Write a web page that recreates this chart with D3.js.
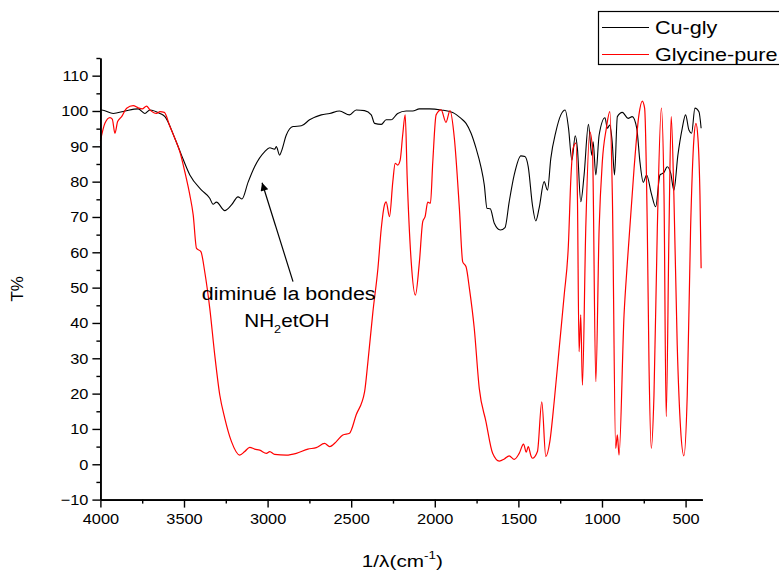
<!DOCTYPE html>
<html>
<head>
<meta charset="utf-8">
<script src="https://cdn.jsdelivr.net/npm/d3@7"></script>
<style>
  html, body { margin: 0; padding: 0; background: #fff; }
  svg text { font-family: "Liberation Sans", Arial, sans-serif; fill: #000; }
</style>
</head>
<body>
<svg id="chart" width="779" height="572"></svg>
<script>
// FTIR transmittance spectra: wavenumber (cm^-1) and T (%)
const cuGlyWave = [4000, 3992, 3923, 3853, 3774, 3734, 3704, 3644, 3614, 3555, 3515, 3465, 3395, 3346, 3326, 3306, 3256, 3216, 3177, 3153, 3117, 3077, 3017, 2987, 2958, 2948, 2928, 2918, 2888, 2848, 2798, 2749, 2679, 2629, 2570, 2510, 2470, 2420, 2380, 2360, 2320, 2291, 2261, 2222, 2171, 2132, 2092, 2032, 1962, 1893, 1843, 1813, 1783, 1753, 1724, 1704, 1688, 1668, 1644, 1608, 1580, 1555, 1525, 1485, 1461, 1441, 1416, 1396, 1376, 1346, 1326, 1306, 1276, 1246, 1220, 1200, 1180, 1160, 1147, 1127, 1107, 1081, 1061, 1053, 1037, 1017, 982, 968, 954, 939, 925, 908, 878, 844, 819, 792, 773, 753, 733, 705, 679, 653, 629, 610, 589, 570, 546, 520, 500, 480, 464, 444, 420, 407];
const cuGlyT = [100.2, 100.3, 99.3, 100.0, 100.6, 99.3, 100.3, 99.3, 98.4, 92.3, 87.5, 81.9, 77.6, 75.3, 73.6, 74.2, 71.8, 73.4, 75.7, 75.1, 79.8, 84.3, 88.5, 89.6, 89.2, 89.9, 87.5, 88.5, 93.2, 95.6, 95.8, 97.5, 98.9, 99.3, 100.0, 98.9, 100.3, 100.1, 98.9, 96.5, 96.2, 97.5, 97.5, 99.3, 100.0, 100.0, 100.6, 100.6, 100.3, 99.6, 97.9, 96.5, 93.7, 89.4, 84.2, 79.1, 72.5, 72.3, 68.2, 66.3, 67.0, 74.3, 81.9, 87.3, 87.1, 84.2, 73.4, 68.9, 72.5, 80.0, 77.6, 86.6, 94.1, 98.9, 100.3, 95.1, 86.1, 93.0, 89.4, 74.3, 81.9, 96.2, 87.5, 91.3, 81.9, 93.2, 98.1, 95.1, 96.0, 91.3, 81.9, 98.4, 99.6, 97.9, 98.4, 95.1, 85.6, 79.8, 81.9, 76.7, 72.9, 81.9, 82.6, 84.2, 82.4, 77.6, 87.5, 95.1, 98.9, 94.6, 93.7, 100.8, 99.8, 95.1];

const glyWave = [4000, 3973, 3943, 3929, 3913, 3897, 3873, 3843, 3804, 3774, 3750, 3724, 3704, 3664, 3644, 3618, 3584, 3555, 3525, 3495, 3465, 3445, 3425, 3399, 3376, 3346, 3316, 3286, 3256, 3216, 3167, 3137, 3107, 3077, 3047, 3007, 2987, 2958, 2888, 2828, 2759, 2709, 2659, 2629, 2589, 2550, 2510, 2470, 2420, 2400, 2370, 2340, 2320, 2301, 2291, 2271, 2251, 2237, 2222, 2207, 2192, 2177, 2165, 2141, 2116, 2092, 2072, 2058, 2042, 2026, 2012, 1992, 1962, 1933, 1909, 1883, 1853, 1833, 1813, 1793, 1764, 1734, 1694, 1654, 1614, 1584, 1555, 1525, 1495, 1469, 1453, 1441, 1425, 1416, 1386, 1360, 1336, 1312, 1286, 1256, 1226, 1201, 1186, 1173, 1156, 1147, 1137, 1127, 1117, 1097, 1073, 1057, 1037, 1017, 998, 974, 953, 938, 918, 908, 898, 868, 848, 808, 779, 759, 745, 729, 719, 705, 689, 669, 645, 629, 616, 599, 586, 570, 550, 530, 510, 490, 470, 450, 438, 426, 414, 407];
const glyT = [91.5, 96.5, 98.1, 97.7, 93.7, 97.0, 98.4, 100.8, 101.5, 100.9, 100.6, 101.4, 100.3, 99.3, 99.8, 99.6, 95.6, 92.3, 88.5, 82.8, 76.2, 70.6, 61.1, 60.2, 54.5, 44.2, 30.9, 19.6, 13.0, 6.4, 2.6, 3.6, 4.8, 4.3, 4.0, 3.1, 3.6, 2.8, 2.6, 3.1, 4.3, 4.7, 5.9, 5.0, 6.4, 8.3, 8.8, 14.0, 20.5, 29.0, 43.2, 55.5, 66.8, 73.4, 74.3, 70.1, 80.0, 85.2, 84.7, 86.1, 93.2, 98.9, 81.0, 57.3, 47.9, 57.3, 68.7, 70.1, 74.2, 73.9, 85.6, 98.9, 100.3, 96.8, 100.1, 92.3, 72.5, 57.3, 55.9, 49.8, 38.5, 21.5, 12.1, 3.1, 0.9, 1.5, 2.4, 1.4, 3.1, 5.7, 3.4, 5.0, 2.4, 1.7, 3.6, 17.7, 2.2, 6.4, 17.7, 32.8, 47.9, 62.0, 81.0, 89.4, 90.9, 76.2, 31.9, 42.3, 22.4, 66.8, 94.1, 89.4, 23.4, 66.8, 85.6, 95.1, 99.8, 76.2, 4.5, 8.3, 2.6, 42.3, 57.3, 83.8, 98.9, 102.8, 100.8, 66.8, 29.0, 4.5, 19.6, 66.8, 100.8, 76.2, 13.5, 66.8, 98.4, 76.2, 33.8, 10.2, 2.4, 19.6, 66.8, 92.3, 96.5, 92.3, 76.2, 55.5];

const seriesNames = ["Cu-gly", "Glycine-pure"];
const seriesColors = ["#000000", "#ff0000"];

const xMajorTicks = [4000, 3500, 3000, 2500, 2000, 1500, 1000, 500];
const xMinorTicks = [3750, 3250, 2750, 2250, 1750, 1250, 750];
const yMajorTicks = [-10, 0, 10, 20, 30, 40, 50, 60, 70, 80, 90, 100, 110];
const yMinorTicks = [-5, 5, 15, 25, 35, 45, 55, 65, 75, 85, 95, 105, 115];

const svg = d3.select("#chart");
const plot = { left: 100.4, right: 702.3, top: 58, bottom: 499.6 };

const x = d3.scaleLinear().domain([4000, 400]).range([plot.left, plot.right]);
const y = d3.scaleLinear().domain([-10, 115]).range([plot.bottom, plot.top]);

// Widen a text element horizontally around its anchor point.
function widen(text, k, ax, ay) {
  text.attr("x", 0).attr("y", 0)
    .attr("transform", `translate(${ax},${ay}) scale(${k},1)`);
  return text;
}

// spectra
const series = [
  d3.zip(cuGlyWave, cuGlyT),
  d3.zip(glyWave, glyT)
];
const line = d3.line()
  .x(d => x(d[0]))
  .y(d => y(d[1]))
  .curve(d3.curveMonotoneX);

svg.append("g").selectAll("path")
  .data(series)
  .join("path")
  .attr("d", line)
  .attr("fill", "none")
  .attr("stroke", (d, i) => seriesColors[i])
  .attr("stroke-width", (d, i) => i === 0 ? 1.1 : 1.2)
  .attr("stroke-linejoin", "round");

// axes
const axisStyle = g => {
  g.select(".domain").attr("stroke", "#000").attr("stroke-width", 1.6);
  g.selectAll(".tick line").attr("stroke", "#000").attr("stroke-width", 1.4);
  g.selectAll(".tick text").attr("font-size", 15).attr("fill", "#000")
    .attr("font-family", "'Liberation Sans', Arial, sans-serif");
};

svg.append("g")
  .attr("transform", `translate(0,${plot.bottom})`)
  .call(d3.axisBottom(x).tickValues(xMinorTicks).tickSize(4).tickFormat("").tickSizeOuter(0))
  .call(axisStyle);
const xAxisG = svg.append("g")
  .attr("transform", `translate(0,${plot.bottom})`)
  .call(d3.axisBottom(x).tickValues(xMajorTicks).tickSize(8).tickPadding(6).tickFormat(d3.format("d")).tickSizeOuter(0))
  .call(axisStyle);
xAxisG.selectAll(".tick text").attr("transform", "scale(1.09,1)");

svg.append("g")
  .attr("transform", `translate(${plot.left},0)`)
  .call(d3.axisLeft(y).tickValues(yMinorTicks).tickSize(4).tickFormat("").tickSizeOuter(0))
  .call(axisStyle);
const yAxisG = svg.append("g")
  .attr("transform", `translate(${plot.left},0)`)
  .call(d3.axisLeft(y).tickValues(yMajorTicks).tickSize(8).tickPadding(4).tickFormat(d3.format("d")).tickSizeOuter(0))
  .call(axisStyle);
yAxisG.selectAll(".tick text").each(function () {
  const t = d3.select(this);
  const tx = +t.attr("x");
  t.attr("x", tx / 1.09).attr("transform", "scale(1.09,1)");
});

// axis titles
svg.append("text")
  .attr("transform", `translate(23,${(plot.top + plot.bottom) / 2 + 10}) rotate(-90)`)
  .attr("text-anchor", "middle")
  .attr("font-size", 17)
  .text("T%");

const xt = svg.append("text")
  .attr("text-anchor", "middle")
  .attr("font-size", 17);
xt.append("tspan").text("1/λ(cm");
xt.append("tspan").attr("dy", -8).attr("font-size", 11).text("-1");
xt.append("tspan").attr("dy", 8).text(")");
widen(xt, 1.22, (plot.left + plot.right) / 2 + 1, 567);

// annotation
const arrowFrom = [2848, 51.7];
const arrowTo = [3033, 79.7];
svg.append("defs").append("marker")
  .attr("id", "head")
  .attr("viewBox", "0 0 10 10")
  .attr("refX", 10).attr("refY", 5)
  .attr("markerWidth", 12).attr("markerHeight", 8)
  .attr("markerUnits", "userSpaceOnUse")
  .attr("orient", "auto")
  .append("path").attr("d", "M0,0 L10,5 L0,10 Z").attr("fill", "#000");

svg.append("line")
  .attr("x1", x(arrowFrom[0])).attr("y1", y(arrowFrom[1]))
  .attr("x2", x(arrowTo[0])).attr("y2", y(arrowTo[1]))
  .attr("stroke", "#000").attr("stroke-width", 1.2)
  .attr("marker-end", "url(#head)");

const ann1 = svg.append("text")
  .attr("text-anchor", "middle")
  .attr("font-size", 18)
  .text("diminué la bondes");
widen(ann1, 1.19, x(2874), y(46.5));

const nh = svg.append("text")
  .attr("text-anchor", "middle")
  .attr("font-size", 18);
nh.append("tspan").text("NH");
nh.append("tspan").attr("dy", 6).attr("font-size", 11).text("2");
nh.append("tspan").attr("dy", -6).text("etOH");
widen(nh, 1.15, x(2885), y(38.9));

// legend
const legend = svg.append("g");
legend.append("rect")
  .attr("x", 598.5).attr("y", 11.5)
  .attr("width", 190).attr("height", 53)
  .attr("fill", "#fff").attr("stroke", "#000").attr("stroke-width", 1.2);
seriesNames.forEach((name, i) => {
  const cy = 27.5 + i * 27;
  legend.append("line")
    .attr("x1", 602).attr("x2", 649)
    .attr("y1", cy).attr("y2", cy)
    .attr("stroke", seriesColors[i]).attr("stroke-width", 1.2);
  const t = legend.append("text")
    .attr("font-size", 18)
    .text(name);
  widen(t, 1.2, 655, cy + 6);
});
</script>
</body>
</html>
